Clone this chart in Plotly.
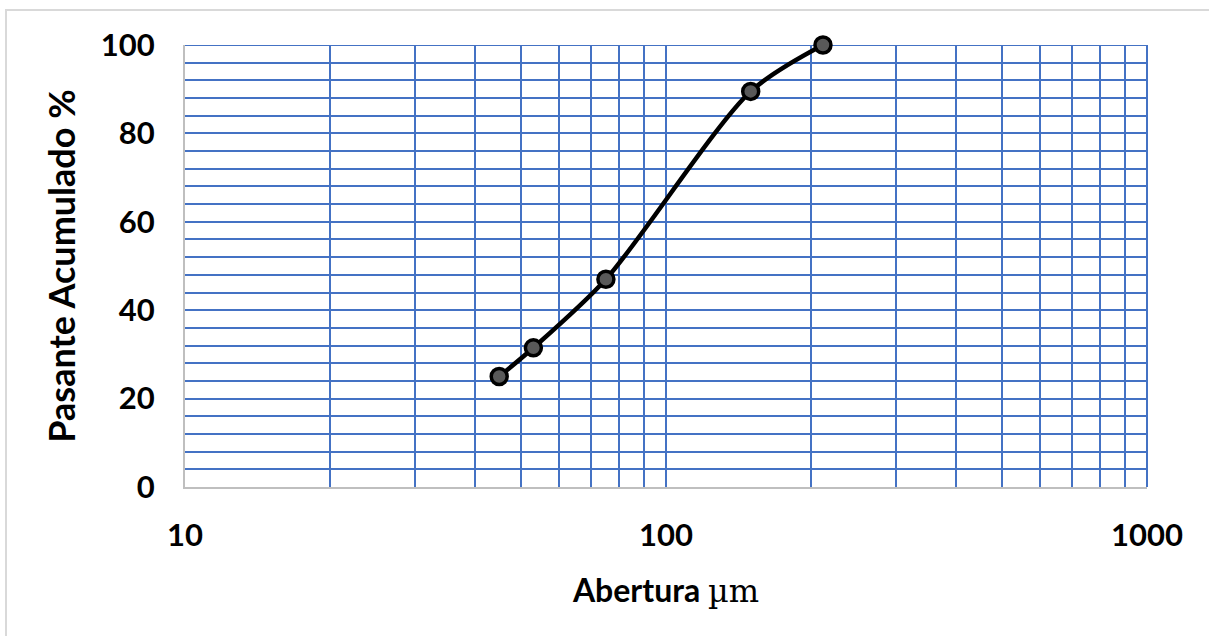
import plotly.graph_objects as go

# Sieve openings (µm) and cumulative passing (%)
abertura = [45, 53, 75, 150, 212]
pasante = [25.0, 31.5, 47.0, 89.5, 100.0]

x_major = [10, 100, 1000]
x_minor = [20, 30, 40, 50, 60, 70, 80, 90, 200, 300, 400, 500, 600, 700, 800, 900]
y_major = [0, 20, 40, 60, 80, 100]

W, H = 1209, 636
L, R, T, B = 185, 62, 45, 149
pw, ph = W - L - R, H - T - B

grid_color = "#4472C4"
font_family = "Lato, 'Open Sans', sans-serif"

fig = go.Figure()
fig.add_trace(go.Scatter(
    x=abertura, y=pasante,
    mode="lines+markers",
    line=dict(color="black", width=4.5, shape="spline", smoothing=0.8),
    marker=dict(size=16, color="#595959", line=dict(color="black", width=3.5)),
    cliponaxis=False,
    showlegend=False,
))

fig.update_xaxes(
    type="log",
    range=[1, 3],
    tickvals=x_major,
    ticktext=[str(v) for v in x_major],
    showgrid=True, gridcolor=grid_color, gridwidth=1.5,
    minor=dict(tickmode="array", tickvals=x_minor, showgrid=True,
               gridcolor=grid_color, gridwidth=1.5, ticks=""),
    showline=True, linecolor="#BFBFBF", linewidth=2,
    ticks="", ticklabelstandoff=20,
    tickfont=dict(family=font_family, size=31, color="black", weight="bold"),
    title=dict(text="Abertura <span style='font-family:DejaVu Serif;font-weight:normal'>µm</span>",
               font=dict(family=font_family, size=32, color="black", weight="bold"),
               standoff=27),
    zeroline=False,
)
fig.update_yaxes(
    range=[0, 100],
    tickvals=y_major,
    showgrid=True, gridcolor=grid_color, gridwidth=1.5,
    minor=dict(dtick=4, tick0=0, showgrid=True, gridcolor=grid_color,
               gridwidth=1.5, ticks=""),
    showline=True, linecolor="#BFBFBF", linewidth=2,
    ticks="", ticklabelstandoff=22,
    tickfont=dict(family=font_family, size=31, color="black", weight="bold"),
    title=dict(text="Pasante Acumulado %",
               font=dict(family=font_family, size=36, color="black", weight="bold"),
               standoff=14),
    zeroline=False,
)

# Edge gridlines at the top (100 %) and right (1000 µm) of the grid
fig.add_shape(type="line", xref="paper", yref="y", x0=0, x1=1, y0=100, y1=100,
              line=dict(color=grid_color, width=2), layer="below")
fig.add_shape(type="line", xref="paper", yref="paper", x0=1, x1=1, y0=0, y1=1,
              line=dict(color=grid_color, width=2), layer="below")

# Light frame around the chart area
fig.add_shape(type="rect", xref="paper", yref="paper",
              x0=(6 - L) / pw, x1=(W + 20 - L) / pw,
              y0=(H - B - (H + 20)) / ph, y1=(H - B - 10) / ph,
              line=dict(color="#D9D9D9", width=2), fillcolor="rgba(0,0,0,0)",
              layer="below")

fig.update_layout(
    width=W, height=H,
    margin=dict(l=L, r=R, t=T, b=B),
    paper_bgcolor="white", plot_bgcolor="white",
)

fig.write_html("out.html")
